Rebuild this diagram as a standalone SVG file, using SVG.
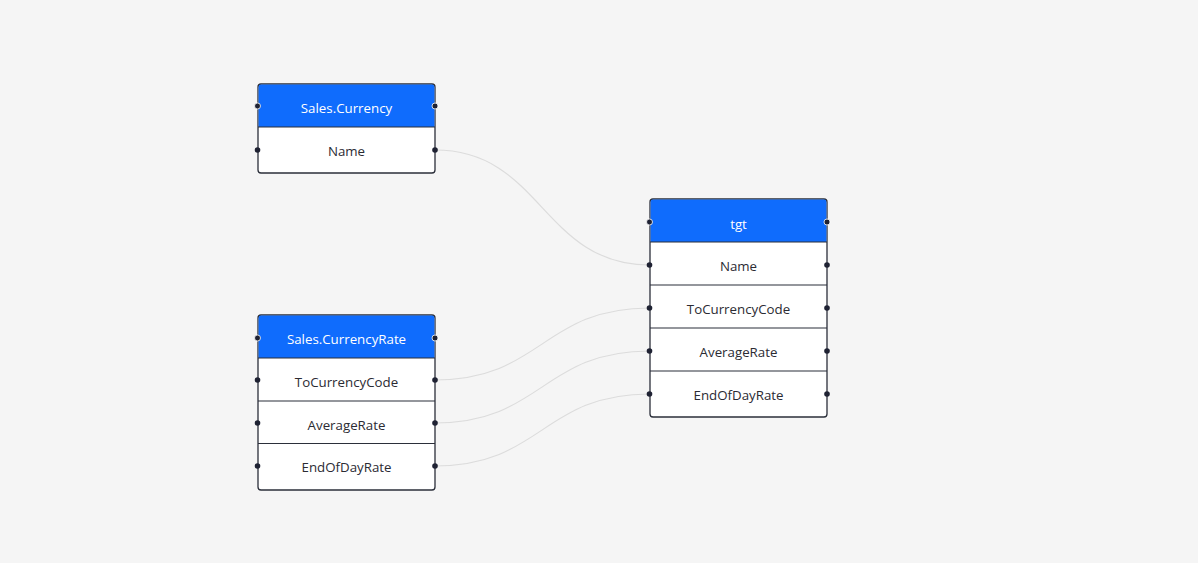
<svg xmlns="http://www.w3.org/2000/svg" width="1198" height="563" viewBox="0 0 1198 563">
<style>
.bg{fill:#f5f5f5}
.box{fill:#ffffff;stroke:#2b2f3a;stroke-width:1.3}
.hdr{fill:#0f6cfd}
.sep{stroke:#2b2f3a;stroke-width:1.2}
.ht{font-family:"Open Sans","Noto Sans",sans-serif;font-size:13.3px;fill:#ffffff;text-anchor:middle}
.rt{font-family:"Open Sans","Noto Sans",sans-serif;font-size:13.3px;fill:#2b2b33;text-anchor:middle}
.dot{fill:#1f2233;stroke:#ffffff;stroke-width:0.8}
.dotr{fill:#1f2233}
.edge{fill:none;stroke:#dcdcdc;stroke-width:1.2}
</style>
<rect class="bg" x="0" y="0" width="1198" height="563"/>
<g id="connectors">
<path class="edge" d="M435,150 C542,150 542,265 650,265"/>
<path class="edge" d="M435,380 C542,380 542,308 650,308"/>
<path class="edge" d="M435,423 C542,423 542,351 650,351"/>
<path class="edge" d="M435,466 C542,466 542,394 650,394"/>
</g>
<g id="node-sales-currency">
<rect class="box" x="258" y="84" width="177" height="89" rx="3"/>
<path class="hdr" d="M261,84.6 H432 A2.4,2.4 0 0 1 434.4,87 V127 H258.6 V87 A2.4,2.4 0 0 1 261,84.6 Z"/>
<line class="sep" x1="258" y1="127" x2="435" y2="127"/>
<text class="ht" x="346.5" y="112.5">Sales.Currency</text>
<text class="rt" x="346.5" y="156">Name</text>
<circle class="dot" cx="257.5" cy="106" r="3"/>
<circle class="dot" cx="435" cy="106" r="3"/>
<circle class="dotr" cx="257.5" cy="150" r="2.8"/>
<circle class="dotr" cx="435" cy="150" r="2.8"/>
</g>
<g id="node-tgt">
<rect class="box" x="650" y="199" width="177" height="218" rx="3"/>
<path class="hdr" d="M653,199.6 H824 A2.4,2.4 0 0 1 826.4,202 V242 H650.6 V202 A2.4,2.4 0 0 1 653,199.6 Z"/>
<line class="sep" x1="650" y1="242" x2="827" y2="242"/>
<line class="sep" x1="650" y1="285" x2="827" y2="285"/>
<line class="sep" x1="650" y1="328" x2="827" y2="328"/>
<line class="sep" x1="650" y1="371" x2="827" y2="371"/>
<text class="ht" x="738.5" y="228.5">tgt</text>
<text class="rt" x="738.5" y="271">Name</text>
<text class="rt" x="738.5" y="314">ToCurrencyCode</text>
<text class="rt" x="738.5" y="357">AverageRate</text>
<text class="rt" x="738.5" y="400">EndOfDayRate</text>
<circle class="dot" cx="649.5" cy="222" r="3"/>
<circle class="dot" cx="827" cy="222" r="3"/>
<circle class="dotr" cx="649.5" cy="265" r="2.8"/>
<circle class="dotr" cx="827" cy="265" r="2.8"/>
<circle class="dotr" cx="649.5" cy="308" r="2.8"/>
<circle class="dotr" cx="827" cy="308" r="2.8"/>
<circle class="dotr" cx="649.5" cy="351" r="2.8"/>
<circle class="dotr" cx="827" cy="351" r="2.8"/>
<circle class="dotr" cx="649.5" cy="394" r="2.8"/>
<circle class="dotr" cx="827" cy="394" r="2.8"/>
</g>
<g id="node-sales-currencyrate">
<rect class="box" x="258" y="315" width="177" height="175" rx="3"/>
<path class="hdr" d="M261,315.6 H432 A2.4,2.4 0 0 1 434.4,318 V358 H258.6 V318 A2.4,2.4 0 0 1 261,315.6 Z"/>
<line class="sep" x1="258" y1="358" x2="435" y2="358"/>
<line class="sep" x1="258" y1="401" x2="435" y2="401"/>
<line class="sep" x1="258" y1="443.5" x2="435" y2="443.5"/>
<text class="ht" x="346.5" y="344">Sales.CurrencyRate</text>
<text class="rt" x="346.5" y="387">ToCurrencyCode</text>
<text class="rt" x="346.5" y="430">AverageRate</text>
<text class="rt" x="346.5" y="472">EndOfDayRate</text>
<circle class="dot" cx="257.5" cy="338" r="3"/>
<circle class="dot" cx="435" cy="338" r="3"/>
<circle class="dotr" cx="257.5" cy="380" r="2.8"/>
<circle class="dotr" cx="435" cy="380" r="2.8"/>
<circle class="dotr" cx="257.5" cy="423" r="2.8"/>
<circle class="dotr" cx="435" cy="423" r="2.8"/>
<circle class="dotr" cx="257.5" cy="466" r="2.8"/>
<circle class="dotr" cx="435" cy="466" r="2.8"/>
</g>
</svg>
